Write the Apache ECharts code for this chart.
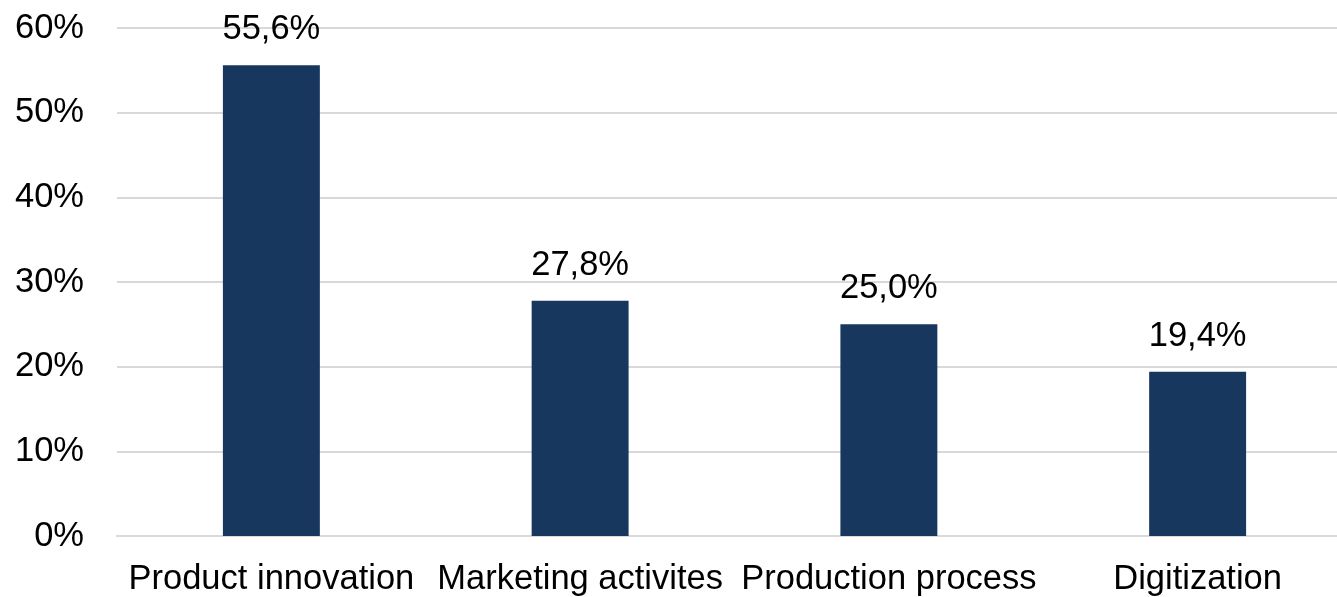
<!DOCTYPE html>
<html>
<head>
<meta charset="utf-8">
<script src="https://cdn.jsdelivr.net/npm/echarts@6/dist/echarts.min.js"></script>
<style>
html,body{margin:0;padding:0;background:#fff;overflow:hidden;}
#chart{width:1352px;height:597px;}
</style>
</head>
<body>
<div id="chart"></div>
<script>
const categories = ['Product innovation', 'Marketing activites', 'Production process', 'Digitization'];
const values = [55.6, 27.8, 25.0, 19.4];
const yTicks = [0, 10, 20, 30, 40, 50, 60];

const FONT = '"Liberation Sans", Arial, Helvetica, sans-serif';
const chart = echarts.init(document.getElementById('chart'), null, {renderer: 'canvas'});
chart.setOption({
  animation: false,
  grid: {left: 117, right: 0, top: 28, bottom: 59, containLabel: false},
  xAxis: {
    type: 'category',
    data: categories,
    axisLine: {show: true, lineStyle: {color: '#d9d9d9', width: 2}},
    axisTick: {show: false},
    axisLabel: {color: '#000', fontSize: 34.5, fontFamily: FONT, margin: 26, interval: 0}
  },
  yAxis: {
    type: 'value',
    min: yTicks[0],
    max: yTicks[yTicks.length - 1],
    interval: 10,
    axisLine: {show: false},
    axisTick: {show: false},
    splitLine: {lineStyle: {color: '#d9d9d9', width: 2}},
    axisLabel: {color: '#000', fontSize: 34.5, fontFamily: FONT, margin: 33, formatter: v => v + '%'}
  },
  series: [{
    type: 'bar',
    data: values,
    barWidth: '31.4%',
    itemStyle: {color: '#17375e'},
    label: {
      show: true,
      position: 'top',
      distance: 18,
      color: '#000',
      fontSize: 34.5,
      fontFamily: FONT,
      formatter: p => p.value.toFixed(1).replace('.', ',') + '%'
    }
  }]
});
</script>
</body>
</html>
